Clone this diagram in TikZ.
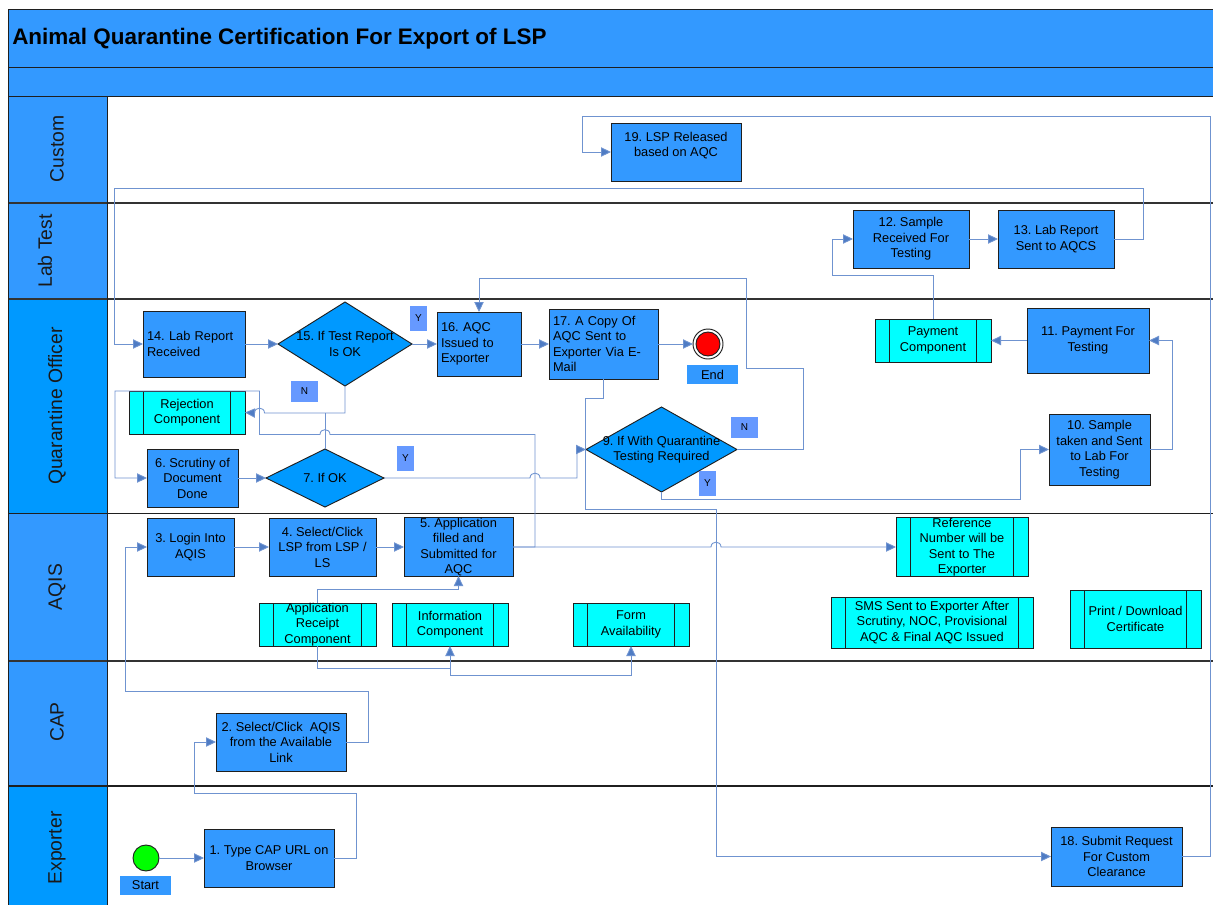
\documentclass[tikz,border=0pt]{standalone}
\usepackage{fontspec}
\setmainfont{Liberation Sans}
\usetikzlibrary{arrows.meta,shapes.geometric}
\frenchspacing
\definecolor{hdr}{HTML}{3399FF}
\definecolor{deep}{HTML}{0099FF}
\definecolor{comp}{HTML}{00FFFF}
\definecolor{tag}{HTML}{6699FF}
\definecolor{wire}{HTML}{6F93D0}
\definecolor{tip}{HTML}{4F7CC4}
\definecolor{edge}{HTML}{1F1F1F}
\definecolor{rule}{HTML}{333333}
\newcommand{\bx}[7]{\pgfmathsetmacro{\bxcx}{(#3+#5)/2}\pgfmathsetmacro{\bxcy}{(#4+#6)/2}\pgfmathsetmacro{\bxw}{(#5-#3)*0.75}\pgfmathsetmacro{\bxh}{(#6-#4)*0.75}\node[#1,minimum width=\bxw pt,minimum height=\bxh pt] (#2) at (\bxcx,\bxcy) {#7};}
\newcommand{\cbars}[1]{\draw[edge,line width=.7pt] ([xshift=10.8pt]#1.north west) -- ([xshift=10.8pt]#1.south west) ([xshift=-10.8pt]#1.north east) -- ([xshift=-10.8pt]#1.south east);}
\tikzset{
 base/.style={rectangle,inner sep=0pt,outer sep=0pt,font=\fontsize{9.6}{11.6}\selectfont,align=center},
 band/.style={base,fill=hdr,draw=edge,line width=.6pt},
 lane/.style={base,fill=#1,draw=none},
 laneline/.style={rule,line width=1pt},
 lanetext/.style={rotate=90,inner sep=0pt,font=\fontsize{14.5}{17}\selectfont,text=black!90},
 procbox/.style={base,fill=hdr,draw=edge,line width=.75pt},
 compbox/.style={base,fill=comp,draw=edge,line width=.75pt},
 tagbox/.style={base,fill=tag,font=\fontsize{7.5}{9}\selectfont},
 capbox/.style={base,fill=hdr},
 decide/.style={diamond,aspect=1.6,inner sep=0pt,outer sep=0pt,fill=deep,draw=edge,line width=.7pt},
 dtext/.style={inner sep=0pt,font=\fontsize{9.6}{11.6}\selectfont,align=center},
 conn/.style={draw=wire,line width=.65pt,-{Triangle[length=7.5pt,width=7pt,fill=tip]}},
 plain/.style={draw=wire,line width=.65pt},
 leftbox/.style={text width=#1,align=left,inner xsep=3pt},
}
\begin{document}
\begin{tikzpicture}[x=0.75pt,y=-0.75pt]
\clip (0,0) rectangle (1213,904);
\fill[white] (0,0) rectangle (1213,904);
% swimlane frame
\bx{lane=hdr}{lcustom}{8}{96}{107}{203}{}
\bx{lane=hdr}{llab}{8}{203}{107}{299}{}
\bx{lane=deep}{lquar}{8}{299}{107}{513}{}
\bx{lane=hdr}{laqis}{8}{513}{107}{661}{}
\bx{lane=hdr}{lcap}{8}{661}{107}{786}{}
\bx{lane=deep}{lexp}{8}{786}{107}{906}{}
\bx{band}{title}{8}{9}{1220}{67}{}
\bx{band}{subtitle}{8}{67}{1220}{96}{}
\node[anchor=west,inner sep=0pt,font=\fontsize{16.85}{19}\selectfont\bfseries] (ttext) at (12,39) {Animal Quarantine Certification For Export of LSP};
\draw[laneline] (8,203) -- (1220,203) (8,299) -- (1220,299);
\draw[edge,line width=.7pt] (8,513) -- (1220,513);
\draw[laneline] (8,661) -- (1220,661);
\draw[edge,line width=.85pt] (8,786) -- (1220,786);
\draw[edge,line width=.6pt] (8,9) -- (8,906) (107,96) -- (107,906);
\node[lanetext] (tcustom) at (57,149) {Custom};
\node[lanetext] (tlab) at (45,251) {Lab Test};
\node[lanetext] (tquar) at (57,406) {Quarantine Officer};
\node[lanetext] (taqis) at (57,587) {AQIS};
\node[lanetext] (tcap) at (57,722) {CAP};
\node[lanetext] (texp) at (57,848) {Exporter};
% process boxes
\bx{procbox}{n19}{611}{123}{741}{181}{19. LSP Released\\based on AQC\\\mbox{}}
\bx{procbox}{n12}{853}{210}{969}{268}{12. Sample\\Received For\\Testing}
\bx{procbox}{n13}{998}{210}{1114}{268}{13. Lab Report\\Sent to AQCS}
\bx{procbox,leftbox=70.5pt}{n14}{143}{311}{245}{377}{14. Lab Report\\Received}
\bx{procbox,leftbox=57pt}{n16}{437}{312}{521}{376}{16. AQC\\Issued to\\Exporter}
\bx{procbox,leftbox=75.75pt}{n17}{549}{309}{658}{379}{17. A Copy Of\\AQC Sent to\\Exporter Via E-\\Mail}
\bx{procbox}{n11}{1027}{308}{1149}{373}{11. Payment For\\Testing}
\bx{procbox}{n10}{1049}{414}{1150}{485}{10. Sample\\taken and Sent\\to Lab For\\Testing}
\bx{procbox}{n6}{147}{449}{238}{507}{6. Scrutiny of\\Document\\Done}
\bx{procbox}{n3}{147}{518}{234}{576}{3. Login Into\\AQIS}
\bx{procbox}{n4}{269}{518}{376}{576}{4. Select/Click\\LSP from LSP /\\LS}
\bx{procbox}{n5}{404}{518}{513}{576}{5. Application\\filled and\\Submitted for\\AQC}
\bx{procbox}{n2}{216}{713}{346}{771}{2. Select/Click\ \ AQIS\\from the Available\\Link}
\bx{procbox}{n1}{204}{829}{334}{887}{1. Type CAP URL on\\Browser}
\bx{procbox}{n18}{1051}{827}{1182}{886}{18. Submit Request\\For Custom\\Clearance}
% component boxes
\bx{compbox}{cpay}{875}{319}{991}{362}{Payment\\Component}\cbars{cpay}
\bx{compbox}{crej}{129}{391}{245}{434}{Rejection\\Component}\cbars{crej}
\bx{compbox}{capp}{259}{603}{376}{646}{Application\\Receipt\\Component}\cbars{capp}
\bx{compbox}{cinfo}{392}{603}{508}{646}{Information\\Component}\cbars{cinfo}
\bx{compbox}{cform}{573}{603}{689}{646}{Form\\Availability}\cbars{cform}
\bx{compbox}{cref}{896}{518}{1028}{576}{Reference\\Number will be\\Sent to The\\Exporter}\cbars{cref}
\bx{compbox}{csms}{831}{597}{1033}{648}{SMS Sent to Exporter After\\Scrutiny, NOC, Provisional\\AQC \& Final AQC Issued}\cbars{csms}
\bx{compbox}{cprint}{1070}{590}{1201}{648}{Print / Download\\Certificate}\cbars{cprint}
% decisions
\node[decide,minimum width=100.5pt,minimum height=63pt] (d15) at (345,344) {};
\node[dtext] (t15) at (d15.center) {15. If Test Report\\Is OK};
\node[decide,minimum width=88.5pt,minimum height=43.5pt] (d7) at (325,478) {};
\node[dtext] (t7) at (d7.center) {7. If OK};
\node[decide,minimum width=113.25pt,minimum height=63.75pt] (d9) at (661.5,449.5) {};
\node[dtext] (t9) at (d9.center) {9. If With Quarantine\\Testing Required};
% events
\node[circle,fill=green,draw=edge,line width=.7pt,minimum size=19.5pt,inner sep=0pt,outer sep=0pt] (start) at (146,858) {};
\bx{capbox}{lstart}{120}{876}{171}{895}{Start}
\node[circle,fill=white,draw=edge,line width=.7pt,minimum size=22.5pt,inner sep=0pt,outer sep=0pt] (end) at (708,344) {};
\node[circle,fill=red,draw=edge,line width=.7pt,minimum size=18pt,inner sep=0pt,outer sep=0pt] (endin) at (708,344) {};
\bx{capbox}{lend}{687}{365}{738}{384}{End}
% decision tags
\bx{tagbox}{y15}{410}{306}{427}{331}{Y}
\bx{tagbox}{nn15}{291}{381}{318}{402}{N}
\bx{tagbox}{y7}{397}{446}{414}{471}{Y}
\bx{tagbox}{nn9}{731}{417}{758}{438}{N}
\bx{tagbox}{y9}{699}{471}{716}{496}{Y}
% connectors
\draw[conn] (start.east) -- (n1.west);
\draw[conn] (n1.east) -- (356,858) -- (356,793) -- (194,793) -- (194,742) -- (n2.west);
\draw[conn] (n2.east) -- (368,742) -- (368,691) -- (125,691) -- (125,547) -- (n3.west);
\draw[conn] (n3.east) -- (n4.west);
\draw[conn] (n4.east) -- (n5.west);
\draw[conn] (n5.east) -- (711,547) .. controls (711,540.5) and (721,540.5) .. (721,547) -- (cref.west);
\draw[conn] (n5.east) -- (535,547) -- (535,434.5) -- (330,434.5) .. controls (330,428) and (320,428) .. (320,434.5) -- (259.5,434.5) -- (259.5,391) -- (115,391) -- (115,478) -- (n6.west);
\draw[conn] (n6.east) -- (d7.west);
\draw[plain] (d7.north) -- (325,413);
\draw[conn] (d15.south) -- (345,413) -- (264.5,413) .. controls (264.5,406.5) and (254.5,406.5) .. (254.5,413) -- (crej.east);
\draw[conn] (d7.east) -- (530,478) .. controls (530,471.5) and (540,471.5) .. (540,478) -- (577,478) -- (577,449.5) -- (d9.west);
\draw[conn] (n14.east) -- (d15.west);
\draw[conn] (d15.east) -- (n16.west);
\draw[conn] (n16.east) -- (n17.west);
\draw[conn] (n17.east) -- (end.west);
\draw[conn] (d9.east) -- (803,449.5) -- (803,368) -- (746,368) -- (746,278) -- (479,278) -- (n16.north);
\draw[conn] (d9.south) -- (661.5,499.5) -- (1020,499.5) -- (1020,449.5) -- (n10.west);
\draw[conn] (n10.east) -- (1172,449.5) -- (1172,340.5) -- (n11.east);
\draw[conn] (n11.west) -- (cpay.east);
\draw[conn] (cpay.north) -- (933,275) -- (832,275) -- (832,239) -- (n12.west);
\draw[conn] (n12.east) -- (n13.west);
\draw[conn] (n13.east) -- (1143,239) -- (1143,188.5) -- (114,188.5) -- (114,344) -- (n14.west);
\draw[conn] (n17.south) -- (603.5,398) -- (585,398) -- (585,509) -- (716,509) -- (716,856.5) -- (n18.west);
\draw[conn] (n18.east) -- (1210,856.5) -- (1210,116) -- (582,116) -- (582,152) -- (n19.west);
\draw[conn] (capp.north) -- (317.5,589) -- (458.5,589) -- (n5.south);
\draw[conn] (capp.south) -- (317.5,668) -- (450,668) -- (cinfo.south);
\draw[conn] (450,668) -- (450,675.5) -- (631,675.5) -- (cform.south);
\end{tikzpicture}
\end{document}
